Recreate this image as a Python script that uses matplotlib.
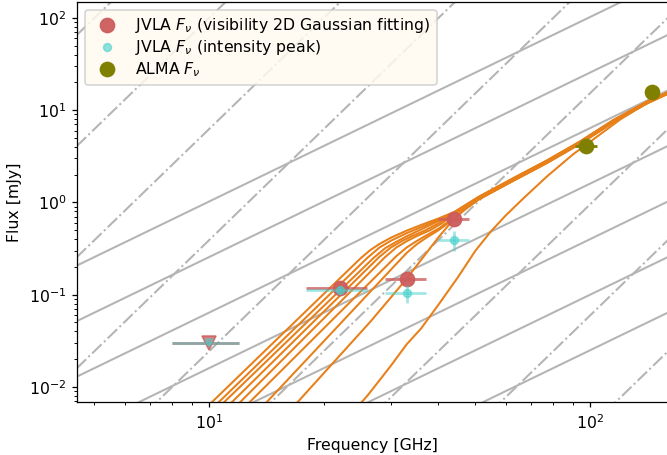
import numpy as np
import matplotlib.pyplot as plt

# observed fluxes (GHz, mJy)
vla_freq = [22.0, 33.0, 44.0]
vla_freq_err = [4.0, 4.0, 4.0]
vla_flux = [0.117, 0.149, 0.667]
vla_flux_err = [0.006, 0.008, 0.02]

peak_freq = [22.0, 33.0, 44.0]
peak_flux = [0.113, 0.105, 0.395]
peak_flux_err = [0.012, 0.023, 0.10]

ulim_freq = [10.0]
ulim_freq_err = [2.0]
ulim_flux = [0.030]

alma_freq = [97.8, 145.5]
alma_freq_err = [6.5, 5.0]
alma_flux = [4.07, 15.7]

# model SEDs, high-frequency part shared by the bundle
tail_freq = [51, 63, 77, 94, 115, 141, 160]
tail_hi = [1.15, 1.84, 2.85, 4.57, 7.8, 12.4, 15.7]
tail_mid = [1.12, 1.79, 2.77, 4.45, 7.6, 12.1, 15.4]
tail_lo = [1.08, 1.73, 2.68, 4.32, 7.4, 11.85, 15.1]

sed_freq = [
    [9.8, 25, 26.5, 28, 30, 33, 36, 40, 44] + tail_freq,
    [9.8, 26, 28, 30, 33, 36, 40, 44] + tail_freq,
    [9.8, 27, 29, 31, 33, 36, 40, 44] + tail_freq,
    [9.8, 28, 30, 32, 34, 37, 40, 44] + tail_freq,
    [9.8, 29, 31, 33, 35, 38, 41, 44] + tail_freq,
    [9.8, 31, 33, 35, 37, 40, 42, 44] + tail_freq,
    [12, 33, 35, 37, 40, 42, 44, 47] + tail_freq,
    [15, 17.1, 26.5, 33, 40, 44, 47] + tail_freq,
    [24, 26, 28, 30, 33, 36, 40, 45, 50, 55, 60, 67, 77, 90, 100, 120, 141, 160],
]
sed_flux = [
    [0.0059, 0.249, 0.305, 0.355, 0.415, 0.495, 0.57, 0.67, 0.79] + tail_hi,
    [0.0050, 0.250, 0.325, 0.385, 0.465, 0.54, 0.65, 0.78] + tail_hi,
    [0.0044, 0.250, 0.320, 0.375, 0.43, 0.51, 0.63, 0.77] + tail_mid,
    [0.0036, 0.258, 0.325, 0.38, 0.43, 0.50, 0.595, 0.765] + tail_mid,
    [0.0029, 0.257, 0.325, 0.38, 0.43, 0.50, 0.60, 0.76] + tail_mid,
    [0.0023, 0.262, 0.325, 0.38, 0.435, 0.52, 0.60, 0.75] + tail_lo,
    [0.0033, 0.284, 0.35, 0.41, 0.50, 0.58, 0.69, 0.85] + tail_lo,
    [0.0038, 0.0069, 0.051, 0.149, 0.42, 0.667, 0.84] + tail_lo,
    [0.0055, 0.0080, 0.0118, 0.017, 0.029, 0.043, 0.078, 0.155, 0.30, 0.49, 0.72,
     1.12, 1.91, 3.3, 4.55, 7.94, 12.0, 15.3],
]

# reference power laws, flux at 100 GHz
nu2_norm = [0.025, 0.1, 0.4, 1.6, 6.4, 25.6, 102.4]
nu4_norm = [2.3e-4, 3.7e-3, 0.0596, 0.954, 15.3, 244, 3906, 62500, 1.0e6, 1.6e7]

dpi = 113
fig = plt.figure(figsize=(667 / dpi, 455 / dpi), dpi=dpi)
ax = fig.add_axes([77 / 667, 53 / 455, 591.6 / 667, 400 / 455])

nu = np.array([1.0, 1000.0])
for a in nu2_norm:
    ax.plot(nu, a * (nu / 100.0) ** 2, color='#b4b4b4', lw=1.3, zorder=1)
for a in nu4_norm:
    ax.plot(nu, a * (nu / 100.0) ** 4, color='#b4b4b4', lw=1.3, ls='-.', zorder=1)

for f, s in zip(sed_freq, sed_flux):
    ax.plot(f, s, color='#e8801a', lw=1.3, zorder=2)

# upper limit at X band
ax.errorbar(ulim_freq, ulim_flux, xerr=ulim_freq_err, fmt='v', color='indianred',
            ms=9, alpha=0.8, elinewidth=1.8, zorder=3)
ax.errorbar(ulim_freq, ulim_flux, xerr=ulim_freq_err, fmt='v', color='mediumturquoise',
            ms=5, alpha=0.5, elinewidth=1.8, zorder=4)

ax.errorbar(vla_freq, vla_flux, xerr=vla_freq_err, yerr=vla_flux_err, fmt='none',
            ecolor='indianred', alpha=0.8, elinewidth=1.8, zorder=3)
ax.plot(vla_freq, vla_flux, 'o', color='indianred', ms=9, alpha=0.95, zorder=3,
        label=r'JVLA $F_{\nu}$ (visibility 2D Gaussian fitting)')

ax.errorbar(peak_freq, peak_flux, xerr=vla_freq_err, yerr=peak_flux_err, fmt='none',
            ecolor='mediumturquoise', alpha=0.5, elinewidth=1.8, zorder=4)
ax.plot(peak_freq, peak_flux, 'o', color='mediumturquoise', ms=5, alpha=0.6, zorder=4,
        label=r'JVLA $F_{\nu}$ (intensity peak)')

ax.errorbar(alma_freq, alma_flux, xerr=alma_freq_err, fmt='none', ecolor='olive',
            elinewidth=1.8, zorder=5)
ax.plot(alma_freq, alma_flux, 'o', color='olive', ms=9, zorder=5, label=r'ALMA $F_{\nu}$')

ax.set_xscale('log')
ax.set_yscale('log')
ax.set_xlim(4.5, 160.7)
ax.set_ylim(0.00687, 148.9)
ax.set_xlabel('Frequency [GHz]')
ax.set_ylabel('Flux [mJy]')

ax.legend(loc='upper left', facecolor='floralwhite', framealpha=0.85,
          labelspacing=0.2)

fig.savefig('out.png', dpi=dpi)
